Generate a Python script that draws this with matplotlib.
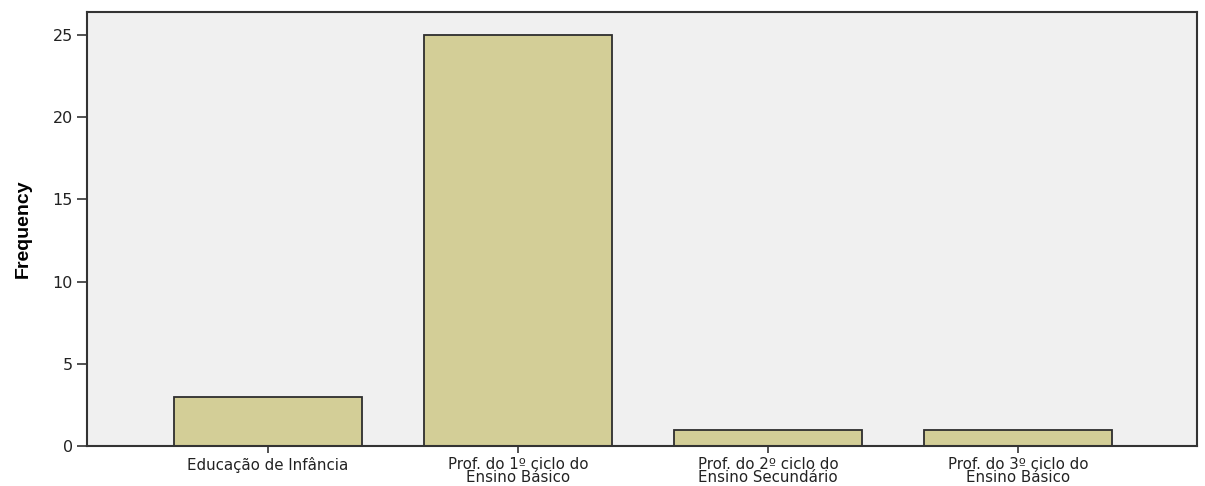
import matplotlib
matplotlib.use("Agg")
import matplotlib.pyplot as plt

# Data
categories = ["Educação de Infância",
              "Prof. do 1º ciclo do\nEnsino Básico",
              "Prof. do 2º ciclo do\nEnsino Secundário",
              "Prof. do 3º ciclo do\nEnsino Básico"]
frequencies = [3, 25, 1, 1]
y_ticks = [0, 5, 10, 15, 20, 25]

plt.rcParams['font.family'] = ['DejaVu Sans']

fig = plt.figure(figsize=(12.05, 4.86), dpi=100)
ax = fig.add_axes([87 / 1205, 1 - 446 / 486, 1110 / 1205, 434 / 486])
ax.set_facecolor('#F0F0F0')

positions = list(range(len(categories)))
ax.bar(positions, frequencies, width=0.752, color='#D3CE97',
       edgecolor='#2E2E2E', linewidth=1.3, zorder=2)

ax.set_xlim(-0.724, 3.716)
ax.set_ylim(0, 26.4)
ax.set_yticks(y_ticks)
ax.set_xticks(positions)
ax.set_xticklabels(categories, fontsize=10.8, linespacing=0.8, color='#222222')
ax.tick_params(axis='y', labelsize=11.5, labelcolor='#222222', length=7,
               width=1.2, color='#333333', pad=3)
ax.tick_params(axis='x', length=5, width=1.2, color='#333333', pad=3)

for sp in ax.spines.values():
    sp.set_color('#333333')
    sp.set_linewidth(1.5)

ax.set_ylabel("Frequency", fontsize=14, fontweight='bold',
              family=['Liberation Sans Narrow', 'Liberation Sans'], labelpad=15)

fig.savefig("out.png", dpi=100)
plt.close(fig)
